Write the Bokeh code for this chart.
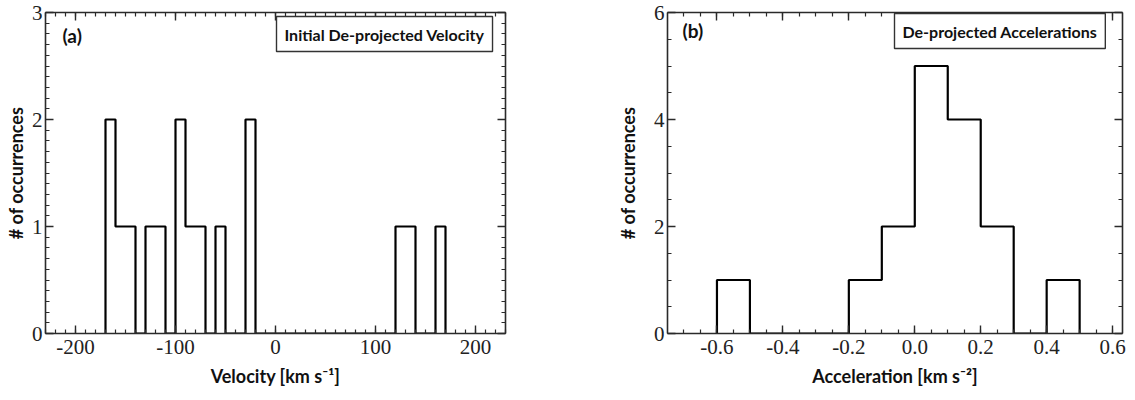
from bokeh.plotting import figure
from bokeh.models import (SingleIntervalTicker, LinearAxis, Label, NumeralTickFormatter,
                          Range1d, CustomLabelingPolicy)
from bokeh.layouts import row
from bokeh.embed import file_html
from bokeh.resources import INLINE

# ---- data ----
vel_edges = [-170, -160, -150, -140, -130, -120, -110, -100, -90, -80, -70, -60, -50, -40,
             -30, -20, -10, 0, 10, 20, 30, 40, 50, 60, 70, 80, 90, 100, 110, 120, 130,
             140, 150, 160, 170]
vel_counts = [2, 1, 1, 0, 1, 1, 0, 2, 1, 1, 0, 1, 0, 0,
              2, 0, 0, 0, 0, 0, 0, 0, 0, 0, 0, 0, 0, 0, 0, 1, 1,
              0, 0, 1]
acc_edges = [-0.6, -0.5, -0.4, -0.3, -0.2, -0.1, 0.0, 0.1, 0.2, 0.3, 0.4, 0.5]
acc_counts = [1, 0, 0, 0, 1, 2, 5, 4, 2, 0, 1]

vel_title = "Initial De-projected Velocity"
acc_title = "De-projected Accelerations"
vel_xlabel = "Velocity [km s\u207b\u00b9]"
acc_xlabel = "Acceleration [km s\u207b\u00b2]"
ylabel = "# of occurrences"

TICK_FONT = "Liberation Serif"
SANS = "Lato"
AX_COL = "#2a2a2a"

NO_LABELS = "for (let i = 0; i < indices.size; i++) { indices.unset(i) } return indices"


def style_axis(ax, show_labels=True):
    ax.axis_line_color = AX_COL
    ax.axis_line_width = 1.6
    ax.major_tick_line_color = AX_COL
    ax.minor_tick_line_color = AX_COL
    ax.major_tick_line_width = 1.4
    ax.minor_tick_line_width = 1.2
    ax.major_tick_in = 8
    ax.major_tick_out = 0
    ax.minor_tick_in = 4
    ax.minor_tick_out = 0
    if show_labels:
        ax.major_label_text_font = TICK_FONT
        ax.major_label_text_font_size = "21px"
        ax.major_label_text_color = "#222222"
        ax.major_label_standoff = 6
        ax.axis_label_text_font = SANS
        ax.axis_label_text_font_style = "bold"
        ax.axis_label_text_font_size = "18px"
        ax.axis_label_text_color = "#111111"
        ax.axis_label_standoff = 8
    else:
        ax.major_label_policy = CustomLabelingPolicy(code=NO_LABELS)
        ax.major_label_text_font_size = "1px"
        ax.major_label_standoff = 0
        ax.axis_label = None


def make_panel(edges, counts, xr, yr, xtick, ytick, xfmt, xlabel, tag, title,
               fw, bl, br, title_x, title_y, tag_x, tag_y, ylab_standoff):
    p = figure(frame_width=fw, frame_height=321, min_border_left=bl, min_border_right=br,
               min_border_top=12, min_border_bottom=67,
               x_range=Range1d(*xr), y_range=Range1d(*yr),
               output_backend="svg", toolbar_location=None, tools="")
    p.xgrid.visible = False
    p.ygrid.visible = False
    p.outline_line_color = None
    p.background_fill_color = "white"
    p.border_fill_color = "white"

    # histogram outline: rise at first edge, fall at last edge
    xs = [edges[0]] + list(edges)
    ys = [0] + list(counts) + [0]
    p.step(xs, ys, mode="after", line_color="black", line_width=2.2)

    p.xaxis.ticker = xtick
    p.yaxis.ticker = ytick
    p.xaxis.formatter = NumeralTickFormatter(format=xfmt)
    p.xaxis.axis_label = xlabel
    p.yaxis.axis_label = ylabel
    style_axis(p.xaxis[0])
    style_axis(p.yaxis[0])
    p.yaxis[0].major_label_standoff = 3
    p.yaxis[0].axis_label_standoff = ylab_standoff

    top = LinearAxis(ticker=xtick)
    right = LinearAxis(ticker=ytick)
    style_axis(top, False)
    style_axis(right, False)
    p.add_layout(top, "above")
    p.add_layout(right, "right")

    p.add_layout(Label(x=tag_x, y=tag_y, x_units="screen", y_units="screen", text=tag,
                       text_font=SANS, text_font_style="bold", text_font_size="19px",
                       text_color="#111111", text_baseline="middle"))
    p.add_layout(Label(x=title_x, y=title_y, x_units="screen", y_units="screen", text=title,
                       text_font=SANS, text_font_style="bold", text_font_size="16px",
                       text_color="#111111", text_baseline="top", text_align="left",
                       padding=8, border_line_color="#333333", border_line_width=1.4,
                       background_fill_color="white"))
    return p


pa = make_panel(vel_edges, vel_counts, (-230, 230), (0, 3),
                SingleIntervalTicker(interval=100, num_minor_ticks=10),
                SingleIntervalTicker(interval=1, num_minor_ticks=10),
                "0", vel_xlabel, "(a)", vel_title, 460, 45, 95, 231, 317, 17, 298, 2)
pb = make_panel(acc_edges, acc_counts, (-0.75, 0.63), (0, 6),
                SingleIntervalTicker(interval=0.2, num_minor_ticks=4),
                SingleIntervalTicker(interval=2, num_minor_ticks=4),
                "0.0", acc_xlabel, "(b)", acc_title, 455, 67, 13, 227, 320, 15, 303, 12)

layout = row(pa, pb)
open("out.html", "w").write(file_html(layout, INLINE))
